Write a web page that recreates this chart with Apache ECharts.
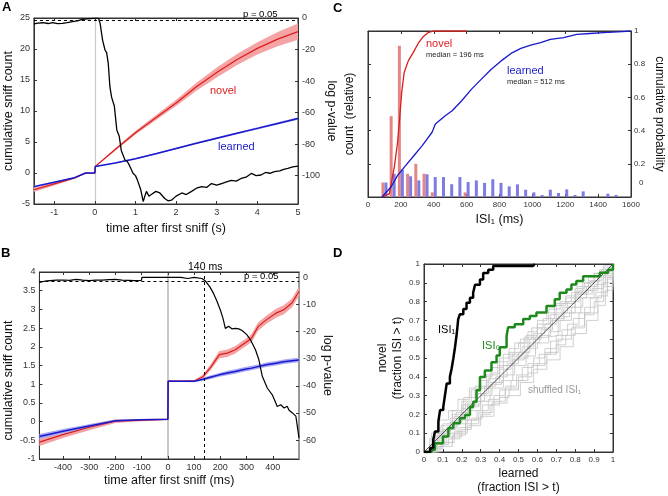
<!DOCTYPE html>
<html>
<head>
<meta charset="utf-8">
<title>first sniff</title>
<script src="https://cdn.jsdelivr.net/npm/echarts@6/dist/echarts.min.js"></script>
<style>
  html, body { margin: 0; background: #fff; }
  #fig { width: 668px; height: 496px; }
</style>
</head>
<body>
<div id="fig"></div>
<script>
// ---------- panel A : cumulative sniff count (s) ----------
const timeA = [-1.5, -1.0, -0.5, -0.23, 0, 0.01, 0.5, 1.0, 1.5, 2.0, 2.5, 3.0, 3.5, 4.0, 4.5, 5.0];
const novelA = [-2.7, -1.75, -0.8, -0.05, 0, 1.05, 3.8, 6.5, 8.9, 11.3, 13.9, 16.2, 18.3, 20.1, 21.6, 22.8];
const novelSemA = [0.35, 0.25, 0.15, 0.05, 0.05, 0.05, 0.2, 0.3, 0.4, 0.5, 0.65, 0.8, 0.9, 1.0, 1.15, 1.3];
const learnedA = [-2.2, -1.5, -0.75, 0, 0, 1.05, 1.6, 2.3, 3.1, 3.95, 4.8, 5.6, 6.4, 7.2, 8.0, 8.8];
const learnedSemA = [0.15, 0.12, 0.08, 0.03, 0.03, 0.05, 0.08, 0.1, 0.12, 0.13, 0.14, 0.15, 0.16, 0.17, 0.18, 0.2];
const timePA = [-1.5, -1.4, -1.28, -1.15, -1.04, -0.92, -0.8, -0.68, -0.55, -0.43,
  -0.31, -0.18, -0.03, 0.09, 0.13, 0.19, 0.25, 0.29, 0.33, 0.37,
  0.41, 0.48, 0.54, 0.6, 0.65, 0.74, 0.8, 0.86, 0.94, 1.0,
  1.05, 1.13, 1.19, 1.23, 1.27, 1.33, 1.39, 1.5, 1.6, 1.72,
  1.8, 1.89, 2.0, 2.14, 2.25, 2.38, 2.5, 2.63, 2.75, 2.87,
  3.0, 3.12, 3.24, 3.36, 3.48, 3.6, 3.72, 3.85, 3.97, 4.09,
  4.2, 4.31, 4.42, 4.55, 4.65, 4.75, 4.87, 5.0];
const logpA = [-3.8, -3.2, -3.0, -3.5, -3.0, -3.6, -3.4, -2.9, -2.3, -1.8,
  -0.8, -0.6, -0.2, -0.2, -3.4, -14, -20.3, -22, -28.8, -43.6,
  -50, -56, -71, -75, -84, -90, -91, -94, -98.5, -100,
  -103, -109, -116.5, -113, -110, -113, -112, -110, -111, -114.5,
  -116, -115.5, -113, -111, -112, -110, -108, -107, -107.5, -105,
  -106, -105, -104, -103, -103.5, -101.8, -101, -98.6, -100, -99.6,
  -98, -98.5, -97.5, -97, -96, -95.4, -94.5, -94];
const ticksXA = [-1, 0, 1, 2, 3, 4, 5];
const ticksPA = [0, -20, -40, -60, -80, -100];

// ---------- panel B : first 500 ms ----------
const timeB = [-490, -400, -300, -200, -100, 0, 1, 50, 100, 134, 165, 196, 227, 257, 294, 319, 344, 375, 412, 442, 473, 500];
const novelB = [-0.55, -0.35, -0.15, 0.01, 0.04, 0.06, 1.08, 1.08, 1.08, 1.2, 1.47, 1.79, 1.83, 1.92, 2.1, 2.23, 2.54, 2.72, 2.9, 2.99, 3.17, 3.48];
const novelSemB = [0.1, 0.09, 0.08, 0.05, 0.03, 0.02, 0.02, 0.02, 0.03, 0.06, 0.08, 0.1, 0.1, 0.1, 0.1, 0.11, 0.11, 0.11, 0.12, 0.12, 0.12, 0.13];
const learnedB = [-0.4, -0.26, -0.12, 0.02, 0.05, 0.06, 1.08, 1.08, 1.08, 1.13, 1.19, 1.25, 1.3, 1.34, 1.4, 1.43, 1.47, 1.52, 1.56, 1.6, 1.63, 1.65];
const learnedSemB = [0.07, 0.06, 0.05, 0.03, 0.02, 0.01, 0.01, 0.01, 0.02, 0.04, 0.05, 0.05, 0.06, 0.06, 0.06, 0.06, 0.06, 0.06, 0.06, 0.06, 0.06, 0.06];
const timePB = [-490, -470, -450, -425, -400, -375, -350, -325, -300, -275,
  -250, -225, -200, -175, -150, -125, -101, -99, 0, 50,
  75, 100, 130, 142, 160, 174, 186, 200, 210, 219,
  232, 245, 258, 270, 283, 300, 315, 334, 347, 360,
  379, 398, 410, 417, 430, 443, 455, 462, 475, 488, 500];
const logpB = [-1.8, -1.4, -1.2, -1.0, -0.95, -1.1, -0.7, -1.0, -1.2, -1.0,
  -1.0, -0.8, -0.7, -1.0, -1.1, -1.2, -1.1, 0, 0, 0,
  -0.4, 0, -0.4, -1.2, -3.5, -5.9, -8.5, -12, -15, -18.8,
  -18, -19, -18.8, -19, -19.6, -21, -23, -26.7, -30.4, -36.5,
  -40.8, -43.3, -46, -47.6, -47, -48.2, -47.5, -49, -50, -51.2, -59.2];
const ticksXB = [-400, -300, -200, -100, 0, 100, 200, 300, 400];
const ticksPB = [0, -10, -20, -30, -40, -50, -60];

// ---------- panel C : ISI1 histogram + cdf ----------
const binNovel = [100, 150, 200, 250, 300, 350, 400, 600];
const countNovel = [0.087, 0.487, 0.911, 0.14, 0.2, 0.14, 0.028, 0.028];
const binLearned = [100, 150, 200, 250, 300, 350, 400, 450, 500, 550, 600, 650, 700, 750, 800, 850, 900, 950, 1000, 1050, 1100, 1150, 1200, 1250, 1300, 1450, 1500];
const countLearned = [0.087, 0.14, 0.165, 0.125, 0.1, 0.137, 0.12, 0.12, 0.077, 0.12, 0.09, 0.1, 0.085, 0.107, 0.085, 0.064, 0.076, 0.044, 0.028, 0.012, 0.044, 0.024, 0.046, 0.012, 0.034, 0.02, 0.012];
const cdfNovelX = [90, 130, 160, 180, 193, 205, 220, 245, 275, 305, 335, 365, 400, 600];
const cdfNovelY = [0, 0.02, 0.18, 0.33, 0.48, 0.63, 0.75, 0.82, 0.87, 0.925, 0.965, 0.99, 1, 1];
const cdfLearnedX = [85, 140, 180, 230, 280, 330, 390, 410, 470, 512, 570, 630, 690, 750, 810, 870, 930, 990, 1050, 1110, 1190, 1270, 1350, 1430, 1520, 1600];
const cdfLearnedY = [0, 0.06, 0.13, 0.19, 0.25, 0.31, 0.39, 0.44, 0.49, 0.52, 0.58, 0.65, 0.71, 0.77, 0.82, 0.865, 0.895, 0.915, 0.93, 0.95, 0.96, 0.98, 0.985, 0.99, 0.995, 1];
const ticksProbC = [0.2, 0.4, 0.6, 0.8, 1];

// ---------- panel D : novel vs learned survival ----------
const isi1D = [[0, 0], [0.032, 0.021], [0.049, 0.065], [0.058, 0.109], [0.076, 0.162], [0.085, 0.223], [0.102, 0.24],
  [0.111, 0.302], [0.12, 0.364], [0.137, 0.4], [0.146, 0.443], [0.155, 0.496], [0.164, 0.557], [0.173, 0.627],
  [0.181, 0.707], [0.19, 0.733], [0.208, 0.76], [0.225, 0.794], [0.243, 0.82], [0.26, 0.847], [0.27, 0.89],
  [0.296, 0.917], [0.313, 0.952], [0.34, 0.97], [0.366, 0.99], [0.577, 0.99], [0.586, 1]];
const isi0D = [[0, 0], [0.04, 0.012], [0.058, 0.047], [0.1, 0.083], [0.129, 0.127], [0.155, 0.153], [0.19, 0.18],
  [0.217, 0.197], [0.243, 0.24], [0.26, 0.267], [0.278, 0.329], [0.296, 0.399], [0.322, 0.434], [0.357, 0.478],
  [0.384, 0.513], [0.401, 0.557], [0.437, 0.619], [0.445, 0.663], [0.48, 0.68], [0.525, 0.707], [0.56, 0.724],
  [0.595, 0.742], [0.648, 0.777], [0.692, 0.812], [0.718, 0.847], [0.754, 0.865], [0.78, 0.891], [0.806, 0.909],
  [0.842, 0.935], [0.877, 0.935], [0.93, 0.953], [0.974, 0.97], [1, 1]];
const shuffledD = [
  [[0, 0], [0.05, 0.08], [0.1, 0.15], [0.15, 0.22], [0.2, 0.27], [0.25, 0.33], [0.3, 0.38], [0.35, 0.42], [0.4, 0.5], [0.45, 0.55], [0.5, 0.58], [0.55, 0.64], [0.6, 0.7], [0.65, 0.74], [0.7, 0.79], [0.75, 0.83], [0.8, 0.87], [0.85, 0.9], [0.9, 0.95], [0.95, 0.98], [1, 1]],
  [[0, 0], [0.05, 0.02], [0.1, 0.05], [0.15, 0.08], [0.2, 0.12], [0.25, 0.17], [0.3, 0.2], [0.35, 0.25], [0.4, 0.29], [0.45, 0.33], [0.5, 0.38], [0.55, 0.42], [0.6, 0.47], [0.65, 0.52], [0.7, 0.57], [0.75, 0.62], [0.8, 0.67], [0.85, 0.73], [0.9, 0.8], [0.95, 0.88], [1, 1]],
  [[0, 0], [0.04, 0.1], [0.08, 0.17], [0.13, 0.22], [0.18, 0.28], [0.24, 0.34], [0.3, 0.4], [0.36, 0.45], [0.42, 0.52], [0.48, 0.58], [0.54, 0.62], [0.6, 0.68], [0.66, 0.76], [0.72, 0.8], [0.78, 0.85], [0.84, 0.9], [0.9, 0.95], [0.95, 0.99], [1, 1]],
  [[0, 0], [0.06, 0.05], [0.12, 0.1], [0.18, 0.17], [0.24, 0.22], [0.3, 0.3], [0.36, 0.34], [0.42, 0.41], [0.48, 0.46], [0.54, 0.55], [0.6, 0.58], [0.66, 0.64], [0.72, 0.7], [0.78, 0.77], [0.84, 0.82], [0.9, 0.89], [0.96, 0.95], [1, 1]],
  [[0, 0], [0.05, 0.03], [0.1, 0.08], [0.16, 0.11], [0.22, 0.17], [0.28, 0.22], [0.34, 0.28], [0.4, 0.33], [0.46, 0.38], [0.52, 0.45], [0.58, 0.5], [0.64, 0.55], [0.7, 0.62], [0.76, 0.68], [0.82, 0.74], [0.88, 0.82], [0.94, 0.9], [1, 1]],
  [[0, 0], [0.05, 0.06], [0.1, 0.12], [0.16, 0.19], [0.22, 0.26], [0.28, 0.31], [0.34, 0.39], [0.4, 0.44], [0.46, 0.51], [0.52, 0.56], [0.58, 0.63], [0.64, 0.68], [0.7, 0.74], [0.76, 0.8], [0.82, 0.86], [0.88, 0.91], [0.94, 0.97], [1, 1]],
  [[0, 0], [0.07, 0.04], [0.13, 0.07], [0.19, 0.13], [0.25, 0.18], [0.31, 0.25], [0.37, 0.3], [0.43, 0.35], [0.49, 0.41], [0.55, 0.47], [0.61, 0.52], [0.67, 0.59], [0.73, 0.65], [0.79, 0.71], [0.85, 0.77], [0.91, 0.85], [0.97, 0.93], [1, 1]],
  [[0, 0], [0.03, 0.07], [0.09, 0.14], [0.15, 0.2], [0.21, 0.29], [0.27, 0.35], [0.33, 0.41], [0.39, 0.48], [0.45, 0.53], [0.51, 0.6], [0.57, 0.66], [0.63, 0.71], [0.69, 0.78], [0.75, 0.82], [0.81, 0.88], [0.87, 0.93], [0.93, 0.97], [1, 1]],
  [[0, 0], [0.07, 0.09], [0.14, 0.18], [0.2, 0.25], [0.27, 0.31], [0.33, 0.37], [0.4, 0.46], [0.47, 0.52], [0.53, 0.61], [0.6, 0.66], [0.67, 0.73], [0.73, 0.79], [0.8, 0.85], [0.87, 0.91], [0.93, 0.96], [1, 1]],
  [[0, 0], [0.08, 0.03], [0.15, 0.09], [0.22, 0.15], [0.29, 0.21], [0.36, 0.27], [0.43, 0.34], [0.5, 0.4], [0.57, 0.46], [0.64, 0.53], [0.71, 0.6], [0.78, 0.66], [0.85, 0.74], [0.92, 0.83], [0.97, 0.92], [1, 1]],
  [[0, 0], [0.04, 0.04], [0.11, 0.12], [0.17, 0.15], [0.23, 0.24], [0.29, 0.27], [0.35, 0.36], [0.41, 0.38], [0.47, 0.49], [0.53, 0.51], [0.59, 0.61], [0.65, 0.62], [0.71, 0.72], [0.77, 0.74], [0.83, 0.84], [0.89, 0.87], [0.95, 0.94], [1, 1]],
  [[0, 0], [0.06, 0.1], [0.12, 0.13], [0.17, 0.21], [0.23, 0.25], [0.3, 0.34], [0.36, 0.37], [0.42, 0.46], [0.48, 0.5], [0.55, 0.58], [0.61, 0.62], [0.67, 0.7], [0.74, 0.74], [0.8, 0.82], [0.86, 0.86], [0.92, 0.93], [1, 1]],
  [[0, 0], [0.09, 0.05], [0.16, 0.1], [0.23, 0.14], [0.3, 0.19], [0.37, 0.26], [0.44, 0.3], [0.51, 0.37], [0.58, 0.44], [0.65, 0.49], [0.72, 0.56], [0.79, 0.63], [0.86, 0.7], [0.92, 0.78], [0.96, 0.86], [1, 1]],
  [[0, 0], [0.03, 0.04], [0.08, 0.11], [0.14, 0.16], [0.2, 0.23], [0.26, 0.27], [0.32, 0.35], [0.38, 0.4], [0.44, 0.47], [0.5, 0.53], [0.56, 0.6], [0.62, 0.65], [0.68, 0.71], [0.74, 0.77], [0.8, 0.84], [0.86, 0.88], [0.92, 0.94], [0.97, 0.97], [1, 1]]
];
const diagD = [[0, 0], [1, 1]];

// ---------- helpers ----------
const FONT = 'Liberation Sans';
const zip = (xs, ys) => xs.map((x, i) => [x, ys[i]]);

function axis(o) {
  const a = {
    type: 'value', gridIndex: o.grid, min: o.min, max: o.max, position: o.pos,
    name: o.name || '', nameLocation: 'middle', nameGap: o.gap || 15,
    nameTextStyle: { fontFamily: FONT, fontSize: o.nameSize || 12.5, color: '#111', lineHeight: o.lh || 15, padding: o.pad || 0 },
    axisLine: { show: true, onZero: false, lineStyle: { color: o.lineColor || '#333', width: o.lineWidth || 1 } },
    axisTick: { show: true, inside: true, length: 3, lineStyle: { color: '#333' } },
    axisLabel: { show: o.labels !== false, fontFamily: FONT, fontSize: o.fs || 9, color: '#333', margin: 4, formatter: v => String(+v.toFixed(2)) },
    splitLine: { show: false }
  };
  if (o.interval != null) a.interval = o.interval;
  if (o.rot != null) a.nameRotate = o.rot;
  if (o.ticks) { a.axisLabel.customValues = o.ticks; a.axisTick.customValues = o.ticks; }
  return a;
}

// shaded mean +- sem band drawn as one polygon
function band(xi, yi, xs, mean, sem, color) {
  const data = xs.map((x, i) => [x, mean[i] - sem[i], mean[i] + sem[i]]);
  return {
    type: 'custom', xAxisIndex: xi, yAxisIndex: yi, data: data, z: 1, silent: true,
    encode: { x: 0, y: [1, 2] },
    renderItem: function (params, api) {
      if (params.dataIndex !== 0) return;
      const up = data.map(d => api.coord([d[0], d[2]]));
      const dn = data.map(d => api.coord([d[0], d[1]])).reverse();
      return { type: 'polygon', shape: { points: up.concat(dn) }, style: { fill: color } };
    }
  };
}
function line(xi, yi, data, color, width, extra) {
  return Object.assign({ type: 'line', xAxisIndex: xi, yAxisIndex: yi, data: data, symbol: 'none', z: 2, silent: true,
    lineStyle: { color: color, width: width } }, extra || {});
}
// invisible carrier for the grey x = 0 marker, drawn under everything
function zeroLine(xi, yi, data, w) {
  return line(xi, yi, data, '#fff', 0, { z: 0, lineStyle: { opacity: 0 },
    markLine: { z: 0, silent: true, symbol: 'none', label: { show: false }, lineStyle: { color: '#c8c8c8', type: 'solid', width: w }, data: [{ xAxis: 0 }] } });
}
const dashed = data => ({ silent: true, symbol: 'none', label: { show: false }, lineStyle: { color: '#000', type: [3, 3], width: 1 }, data: data });

const RED = '#dc1c1c', BLUE = '#1818cc';

const chart = echarts.init(document.getElementById('fig'), null, { renderer: 'canvas' });

const grids = [
  { left: 32, top: 18, width: 266, height: 186 },
  { left: 31, top: 272, width: 268, height: 187 },
  { left: 368, top: 31, width: 268, height: 166 },
  { left: 424, top: 264, width: 189, height: 190 }
].map(g => Object.assign({ show: true, borderColor: '#333', borderWidth: 1, backgroundColor: 'transparent' }, g));

const xAxes = [
  axis({ grid: 0, min: -1.5, max: 5, ticks: ticksXA, name: 'time after first sniff (s)', gap: 17 }),
  axis({ grid: 0, min: -1.5, max: 5, ticks: ticksXA, pos: 'top', labels: false }),
  axis({ grid: 1, min: -490, max: 500, ticks: ticksXB, name: 'time after first sniff (ms)', gap: 11 }),
  axis({ grid: 1, min: -490, max: 500, ticks: ticksXB, pos: 'top', labels: false }),
  axis({ grid: 2, min: 0, max: 1600, interval: 200, name: 'ISI\u2081 (ms)', gap: 15, fs: 8 }),
  axis({ grid: 2, min: 0, max: 1600, interval: 200, pos: 'top', labels: false }),
  axis({ grid: 3, min: 0, max: 1, interval: 0.1, name: 'learned\n(fraction ISI > t)', gap: 15, fs: 8, nameSize: 12, lh: 14 }),
  axis({ grid: 3, min: 0, max: 1, interval: 0.1, pos: 'top', labels: false })
];
const yAxes = [
  axis({ grid: 0, min: -5, max: 25, interval: 5, name: 'cumulative sniff count', gap: 14 }),
  axis({ grid: 0, min: -118, max: 0, ticks: ticksPA, pos: 'right', name: 'log p-value', gap: 17, rot: -90 }),
  axis({ grid: 1, min: -1, max: 4, interval: 0.5, name: 'cumulative sniff count', gap: 10, pad: [0, 30, 0, 0] }),
  axis({ grid: 1, min: -67, max: 2, ticks: ticksPB, pos: 'right', name: 'log p-value', gap: 17, rot: -90, lineColor: '#999', lineWidth: 2 }),
  axis({ grid: 2, min: 0, max: 1, interval: 0.2, labels: false, name: 'count  (relative)', gap: 11, nameSize: 12 }),
  axis({ grid: 2, min: 0, max: 1, ticks: ticksProbC, pos: 'right', name: 'cumulative probability', gap: 21, rot: -90, fs: 8, nameSize: 12 }),
  axis({ grid: 3, min: 0, max: 1, interval: 0.1, name: 'novel\n(fraction ISI > t)', gap: 11, fs: 8, nameSize: 12, lh: 15 }),
  axis({ grid: 3, min: 0, max: 1, interval: 0.1, pos: 'right', labels: false })
];
yAxes[5].axisLabel.margin = 3;

const series = [];
// A
series.push(zeroLine(0, 0, zip(timeA, novelA), 1.2));
series.push(band(0, 0, timeA, novelA, novelSemA, '#f4a4a4'));
series.push(band(0, 0, timeA, learnedA, learnedSemA, '#a8a8f4'));
series.push(line(0, 0, zip(timeA, novelA), RED, 1.2));
series.push(line(0, 0, zip(timeA, learnedA), BLUE, 1.5));
series.push(line(0, 1, zip(timePA, logpA), '#000', 1.3, { z: 3, markLine: dashed([{ yAxis: -1.3 }]) }));
// B
series.push(zeroLine(2, 2, zip(timeB, novelB), 2));
series.push(band(2, 2, timeB, novelB, novelSemB, '#f4a4a4'));
series.push(band(2, 2, timeB, learnedB, learnedSemB, '#a8a8f4'));
series.push(line(2, 2, zip(timeB, novelB), RED, 1.2));
series.push(line(2, 2, zip(timeB, learnedB), BLUE, 1.5));
series.push(line(2, 3, zip(timePB, logpB), '#000', 1.2, { z: 3, markLine: dashed([{ yAxis: -1.3 }, { xAxis: 140 }]) }));
// C
series.push({ type: 'bar', xAxisIndex: 4, yAxisIndex: 4, data: zip(binNovel, countNovel), barWidth: 3, barGap: '0%', itemStyle: { color: '#e58585' }, silent: true });
series.push({ type: 'bar', xAxisIndex: 4, yAxisIndex: 4, data: zip(binLearned, countLearned), barWidth: 3, barGap: '0%', itemStyle: { color: '#7c7ce2' }, silent: true });
series.push(line(4, 5, zip(cdfNovelX, cdfNovelY), RED, 1.3, { z: 3 }));
series.push(line(4, 5, zip(cdfLearnedX, cdfLearnedY), BLUE, 1.3, { z: 3 }));
// D
shuffledD.forEach(s => series.push(line(6, 6, s, '#c4c4c4', 0.8, { step: 'end' })));
series.push(line(6, 6, diagD, '#222', 0.8));
series.push(line(6, 6, isi0D, '#1e8a1e', 2.5, { step: 'end', z: 3 }));
series.push(line(6, 6, isi1D, '#000', 2.5, { step: 'end', z: 3 }));

function txt(x, y, text, size, color) {
  return { type: 'text', x: x, y: y, z: 50, silent: true,
    style: { text: text, fill: color, font: size + 'px "' + FONT + '"', textVerticalAlign: 'middle', verticalAlign: 'middle', textAlign: 'left', align: 'left' } };
}
function letter(x, y, s) {
  return { type: 'text', x: x, y: y, z: 50, silent: true, style: { text: s, fill: '#000', font: 'bold 13px "' + FONT + '"', textVerticalAlign: 'top', verticalAlign: 'top' } };
}

const graphics = [
  letter(2, 1, 'A'), letter(1, 247, 'B'), letter(333, 2, 'C'), letter(333, 247, 'D'),
  txt(210, 91, 'novel', 11, RED), txt(218, 147, 'learned', 11, BLUE), txt(243, 14, 'p = 0.05', 9.5, '#000'),
  txt(188, 267, '140 ms', 10.5, '#000'), txt(244, 276, 'p = 0.05', 9.5, '#000'),
  txt(426, 44, 'novel', 11, RED), txt(426, 55, 'median = 196 ms', 7.5, '#222'),
  txt(507, 71, 'learned', 11, BLUE), txt(507, 82, 'median = 512 ms', 7.5, '#222'),
  txt(639, 183, '0', 8, '#333'),
  txt(438, 330, 'ISI\u2081', 11, '#000'), txt(482, 346, 'ISI\u2080', 11, '#1e8a1e'), txt(528, 390, 'shuffled ISI\u2081', 10, '#999')
];

chart.setOption({
  animation: false,
  backgroundColor: '#fff',
  grid: grids,
  xAxis: xAxes,
  yAxis: yAxes,
  series: series,
  graphic: graphics
});

window.onresize = function () { chart.resize(); };
</script>
</body>
</html>
